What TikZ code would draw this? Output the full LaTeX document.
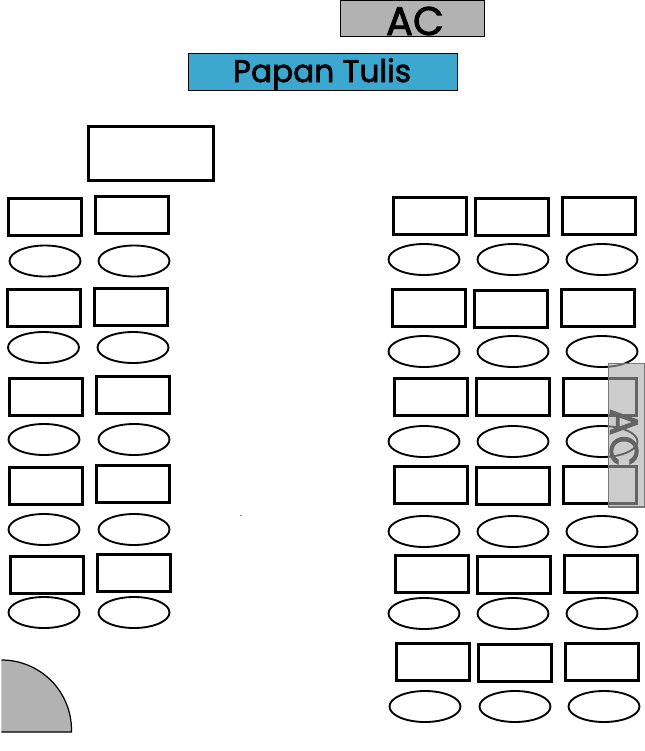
\documentclass[tikz,border=0pt]{standalone}
\usepackage{fontspec}
\setmainfont{Poppins}
\newfontfamily\heavyfont[FakeBold=2.2]{Poppins}
\definecolor{panelgray}{RGB}{178,178,178}
\definecolor{boardblue}{RGB}{60,168,207}
\definecolor{overlaygray}{RGB}{170,170,170}
\definecolor{overlayedge}{RGB}{120,120,120}
\tikzset{
  desk/.style={draw=black,line width=2.25pt,fill=white},
  chair/.style={draw=black,line width=1.4pt,fill=white},
  panel/.style={draw=black,line width=0.9pt},
  big/.style={font=\heavyfont\fontsize{30}{30}\selectfont,inner sep=0pt,text=black},
}
\begin{document}
\begin{tikzpicture}[x=0.75pt,y=-0.75pt]
\useasboundingbox (0,0) rectangle (645,751);
% AC and board
\draw[panel,fill=panelgray] (340.5,0.5) rectangle (484.5,36.5);
\node[big,anchor=base] (ac1) at (415,35) {AC};
\draw[panel,fill=boardblue] (188.5,53.5) rectangle (457.5,90.5);
\node[big,font=\heavyfont\fontsize{23.4}{24}\selectfont,anchor=base] (board) at (322,82) {Papan Tulis};
% teacher desk
\draw[desk] (88,126) rectangle (213.5,180);
% desks
\foreach \x/\y in {8/198,95/196,7/289,94/288,9/378,96/376,9/467,96/465,10/556,97/554,
  393/197,475/198,562/197,392/289,474/290,561/289,394/378,476/378,563/378,
  394/466,476/467,563/466,395/555,477/556,564/555,396/643,478/644,565/643}
  \draw[desk] (\x,\y) rectangle ++(73.5,37);
% chairs
\foreach \x/\y in {45/261,134/261,43.5/347.5,133/347.5,44/439.5,134/439.5,44/529.5,134/529.5,44/612.5,134/612.5,
  424/259.5,513/259.5,602/259.5,424/351.5,513/351.5,602/351.5,424/441.5,513/441.5,602/441.5,
  424/531.5,513/531.5,602/531.5,424/613.5,513/613.5,602/613.5,425/706.5,515/706.5,604/706.5}
  \draw[chair] (\x,\y) ellipse [x radius=35.5,y radius=15.5];
% door
\path[fill=panelgray] (1.5,660) .. controls (40.2,660) and (71.5,691.3) .. (71.5,730) -- (71.5,732) -- (1.5,732) -- cycle;
\draw[line width=0.9pt] (1.5,660) .. controls (40.2,660) and (71.5,691.3) .. (71.5,730) -- (71.5,732) -- (1.5,732);
% speck
\fill[gray] (240,514.5) rectangle (242,515.5);
% side AC
\node[big,rotate=-90] (ac2) at (624,437.5) {AC};
\draw[draw=overlayedge,line width=0.9pt,fill=overlaygray,fill opacity=0.59] (608.5,363.5) rectangle (644.5,507);
\end{tikzpicture}
\end{document}
